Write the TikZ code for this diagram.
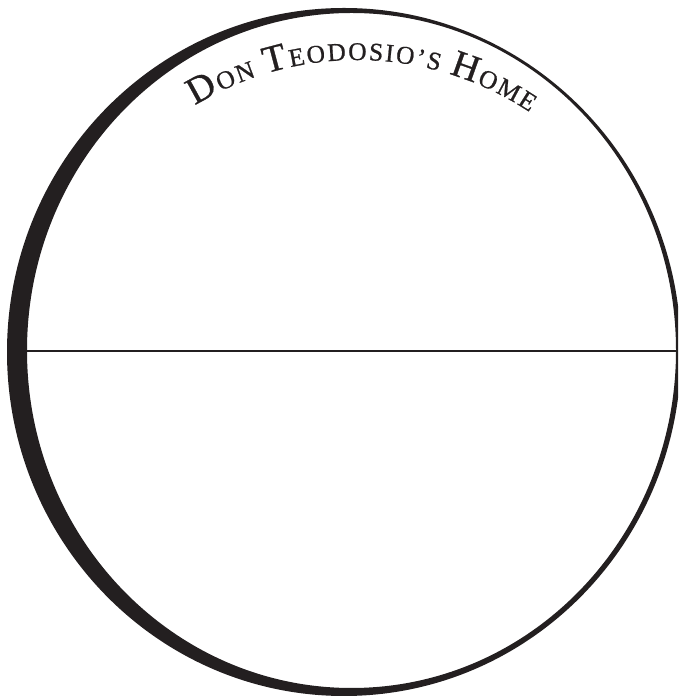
\documentclass[tikz,border=0pt]{standalone}
\usepackage{fontspec}
\setmainfont{Liberation Serif}
\newfontfamily\titlefont{Liberation Serif}[FakeBold=0.8]
\usetikzlibrary{decorations.text}
\definecolor{ink}{HTML}{231F20}
\newcommand\tbigcap{\titlefont\fontsize{38}{38}\selectfont\color{ink}}
\newcommand\tsmallcap{\titlefont\fontsize{25.5}{25.5}\selectfont\color{ink}}
\tikzset{
  rim/.style={fill=ink, even odd rule},
  divider/.style={draw=ink, line width=2.2pt},
  arctitle/.style={decorate, decoration={text along path,
      text={|\tbigcap|D|\tsmallcap|ON |\tbigcap|T|\tsmallcap|EODOSIO’S |\tbigcap|H|\tsmallcap|OME},
      text align=fit to path}}
}
\begin{document}
\begin{tikzpicture}[x=1pt,y=1pt]
\useasboundingbox (0,0) rectangle (678,698);
\begin{scope}
  \clip (0,0) rectangle (678,698);
  \path[rim] (344,346) ellipse [x radius=337, y radius=344]
             (351.5,347.5) ellipse [x radius=324.5, y radius=337.5];
\end{scope}
\coordinate (lineL) at (27,347);
\coordinate (lineR) at (678,347);
\draw[divider] (lineL) -- (lineR);
\path[arctitle] ([shift={(121.3:312)}]357,326) arc [start angle=121.3, end angle=56.4, radius=312];
\end{tikzpicture}
\end{document}
